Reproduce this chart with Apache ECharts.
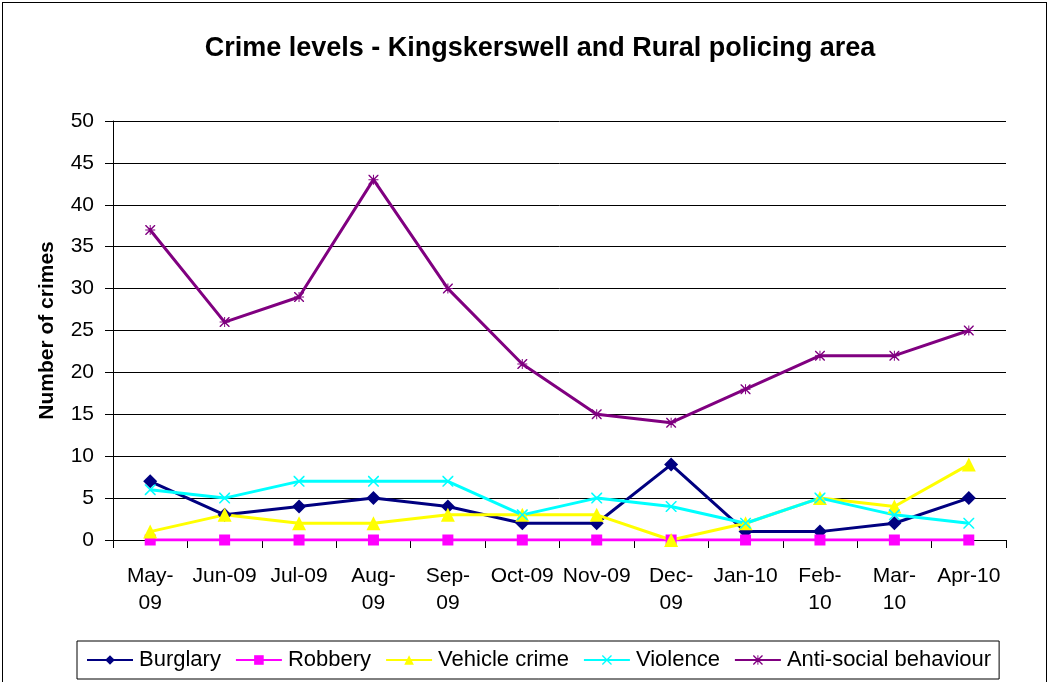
<!DOCTYPE html>
<html>
<head>
<meta charset="utf-8">
<script src="https://cdn.jsdelivr.net/npm/echarts@6/dist/echarts.min.js"></script>
<style>
  html, body { margin: 0; padding: 0; background: #fff; }
  #frame { position: absolute; left: 2px; top: 2px; width: 1045px; height: 690px; border: 1px solid #000; box-sizing: border-box; }
  #chart { position: absolute; left: 0; top: 0; width: 1051px; height: 682px; }
</style>
</head>
<body>
<div id="frame"></div>
<div id="chart"></div>
<script>
// Monthly crime counts, May 2009 - April 2010
const categories = ['May-09','Jun-09','Jul-09','Aug-09','Sep-09','Oct-09','Nov-09','Dec-09','Jan-10','Feb-10','Mar-10','Apr-10'];
const tickLabels = ['May-\n09','Jun-09','Jul-09','Aug-\n09','Sep-\n09','Oct-09','Nov-09','Dec-\n09','Jan-10','Feb-\n10','Mar-\n10','Apr-10'];
const burglary = [7, 3, 4, 5, 4, 2, 2, 9, 1, 1, 2, 5];
const robbery = [0, 0, 0, 0, 0, 0, 0, 0, 0, 0, 0, 0];
const vehicleCrime = [1, 3, 2, 2, 3, 3, 3, 0, 2, 5, 4, 9];
const violence = [6, 5, 7, 7, 7, 3, 5, 4, 2, 5, 3, 2];
const antiSocial = [37, 26, 29, 43, 30, 21, 15, 14, 18, 22, 22, 25];

const FONT = '"Liberation Sans", Arial, sans-serif';
const crossPath = 'path://M0,0 L10,10 M10,0 L0,10 M0,0 L1,0 L10,9 L10,10 L9,10 L0,1 Z M10,0 L10,1 L1,10 L0,10 L0,9 L9,0 Z';
const starPath = 'path://M4.5,0 L5.5,0 L5.5,4.5 L10,4.5 L10,5.5 L5.5,5.5 L5.5,10 L4.5,10 L4.5,5.5 L0,5.5 L0,4.5 L4.5,4.5 Z M0,0 L1,0 L10,9 L10,10 L9,10 L0,1 Z M10,0 L10,1 L1,10 L0,10 L0,9 L9,0 Z';

function line(name, data, color, symbol, size) {
  return {
    name, type: 'line', data,
    symbol, symbolSize: size,
    lineStyle: { color, width: 3 },
    itemStyle: { color, borderWidth: 0 },
    emphasis: { disabled: true },
    animation: false
  };
}

const chart = echarts.init(document.getElementById('chart'));
chart.setOption({
  backgroundColor: 'transparent',
  title: {
    text: 'Crime levels - Kingskerswell and Rural policing area',
    left: 535, top: 30, textAlign: 'center',
    textStyle: { fontFamily: FONT, fontSize: 27, fontWeight: 'bold', color: '#000' }
  },
  grid: { left: 113, right: 45, top: 121, bottom: 142, containLabel: false },
  legend: {
    left: 77, top: 641, width: 930,
    itemGap: 14, itemWidth: 46, itemHeight: 12,
    padding: [8, 8, 8, 9],
    borderColor: '#000', borderWidth: 1,
    textStyle: { fontFamily: FONT, fontSize: 22, color: '#000', padding: [0, 0, 0, 1] },
    data: ['Burglary', 'Robbery', 'Vehicle crime', 'Violence', 'Anti-social behaviour']
  },
  xAxis: {
    type: 'category', data: categories, boundaryGap: true,
    axisLine: { lineStyle: { color: '#000', width: 1 } },
    axisTick: { show: true, length: 8, lineStyle: { color: '#000' }, alignWithLabel: false },
    axisLabel: {
      interval: 0, margin: 23, lineHeight: 27,
      fontFamily: FONT, fontSize: 21, color: '#000',
      formatter: (v, i) => tickLabels[i]
    }
  },
  yAxis: {
    type: 'value', min: 0, max: 50, interval: 5,
    name: 'Number of crimes', nameLocation: 'middle', nameGap: 55, nameRotate: 90,
    nameTextStyle: { fontFamily: FONT, fontSize: 21, fontWeight: 'bold', color: '#000' },
    axisLine: { show: true, lineStyle: { color: '#000' } },
    axisTick: { show: true, length: 8, lineStyle: { color: '#000' } },
    axisLabel: { fontFamily: FONT, fontSize: 21, color: '#000', margin: 19 },
    splitLine: { lineStyle: { color: '#000', width: 1 } }
  },
  series: [
    line('Burglary', burglary, '#000080', 'diamond', 14),
    line('Robbery', robbery, '#ff00ff', 'rect', 11),
    line('Vehicle crime', vehicleCrime, '#ffff00', 'triangle', 14),
    line('Violence', violence, '#00ffff', crossPath, 11),
    line('Anti-social behaviour', antiSocial, '#800080', starPath, 10)
  ]
});
</script>
</body>
</html>
